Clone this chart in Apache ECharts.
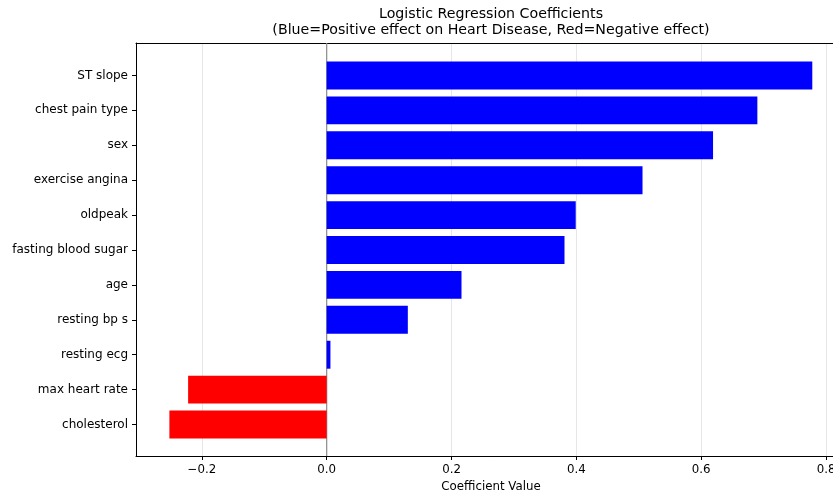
<!DOCTYPE html>
<html>
<head>
<meta charset="utf-8">
<script src="https://cdn.jsdelivr.net/npm/echarts@6/dist/echarts.min.js"></script>
<style>html,body{margin:0;padding:0;background:#fff;overflow:hidden;width:833px;height:498px;}#c{width:846px;height:498px;}</style>
</head>
<body>
<div id="c"></div>
<script>
const categories = ["cholesterol", "max heart rate", "resting ecg", "resting bp s", "age", "fasting blood sugar", "oldpeak", "exercise angina", "sex", "chest pain type", "ST slope"];
const values = [-0.252, -0.222, 0.006, 0.130, 0.216, 0.381, 0.399, 0.506, 0.619, 0.690, 0.778];
const xTicks = [-0.2, 0.0, 0.2, 0.4, 0.6, 0.8];
const titleText = "Logistic Regression Coefficients\n(Blue=Positive effect on Heart Disease, Red=Negative effect)";
const xLabel = "Coefficient Value";

const XMIN = -0.3055, XMAX = 0.832;
const FONT = "DejaVu Sans";
const chart = echarts.init(document.getElementById('c'), null, {renderer: 'canvas'});

const option = {
  animation: false,
  backgroundColor: '#fff',
  textStyle: {fontFamily: FONT},
  title: {
    text: titleText,
    left: 486, top: 1,
    textAlign: 'center',
    textStyle: {fontSize: 14.2, fontWeight: 'normal', color: '#000', lineHeight: 16.5, fontFamily: FONT}
  },
  grid: [
    {left: 136, right: 0, top: 43, bottom: 40},
    {left: 136, right: 0, top: 58, bottom: 56}
  ],
  xAxis: [
    {
      gridIndex: 0, type: 'value', min: XMIN, max: XMAX, interval: 0.2,
      name: xLabel, nameLocation: 'middle', nameGap: 25,
      nameTextStyle: {fontSize: 11.8, color: '#000', fontFamily: FONT},
      axisLine: {show: true, onZero: false, lineStyle: {color: '#000', width: 1}},
      axisTick: {show: true, length: 4, lineStyle: {color: '#000'},
        customValues: xTicks},
      axisLabel: {fontSize: 11.8, color: '#000', margin: 8, fontFamily: FONT,
        customValues: xTicks,
        formatter: v => (v < 0 ? '\u2212' : '') + Math.abs(v).toFixed(1)},
      splitLine: {show: true, lineStyle: {color: '#e6e6e6', width: 1}},
      splitArea: {show: false}
    },
    {
      gridIndex: 0, type: 'value', position: 'top', min: XMIN, max: XMAX,
      axisLine: {show: true, onZero: false, lineStyle: {color: '#000', width: 1}},
      axisTick: {show: false}, axisLabel: {show: false}, splitLine: {show: false}
    },
    {
      gridIndex: 1, type: 'value', min: XMIN, max: XMAX, show: false
    }
  ],
  yAxis: [
    {
      gridIndex: 0, type: 'value', min: 0, max: 1,
      axisLine: {show: true, onZero: false, lineStyle: {color: '#000', width: 1}},
      axisTick: {show: false}, axisLabel: {show: false}, splitLine: {show: false}
    },
    {
      gridIndex: 1, type: 'category', data: categories,
      axisLine: {show: false, onZero: false},
      axisTick: {show: true, alignWithLabel: true, length: 4, lineStyle: {color: '#000'}},
      axisLabel: {fontSize: 12, color: '#000', margin: 8, fontFamily: FONT},
      splitLine: {show: false}
    }
  ],
  series: [
    {
      type: 'line', xAxisIndex: 0, yAxisIndex: 0,
      data: [[0, 0], [0, 1]], symbol: 'none', silent: true,
      lineStyle: {color: '#8c8c8c', width: 1.2}, z: 1
    },
    {
      type: 'bar', xAxisIndex: 2, yAxisIndex: 1,
      barWidth: '80%',
      data: values.map(v => ({value: v, itemStyle: {color: v >= 0 ? '#0000ff' : '#ff0000'}})),
      z: 3
    }
  ]
};
chart.setOption(option);
</script>
</body>
</html>
